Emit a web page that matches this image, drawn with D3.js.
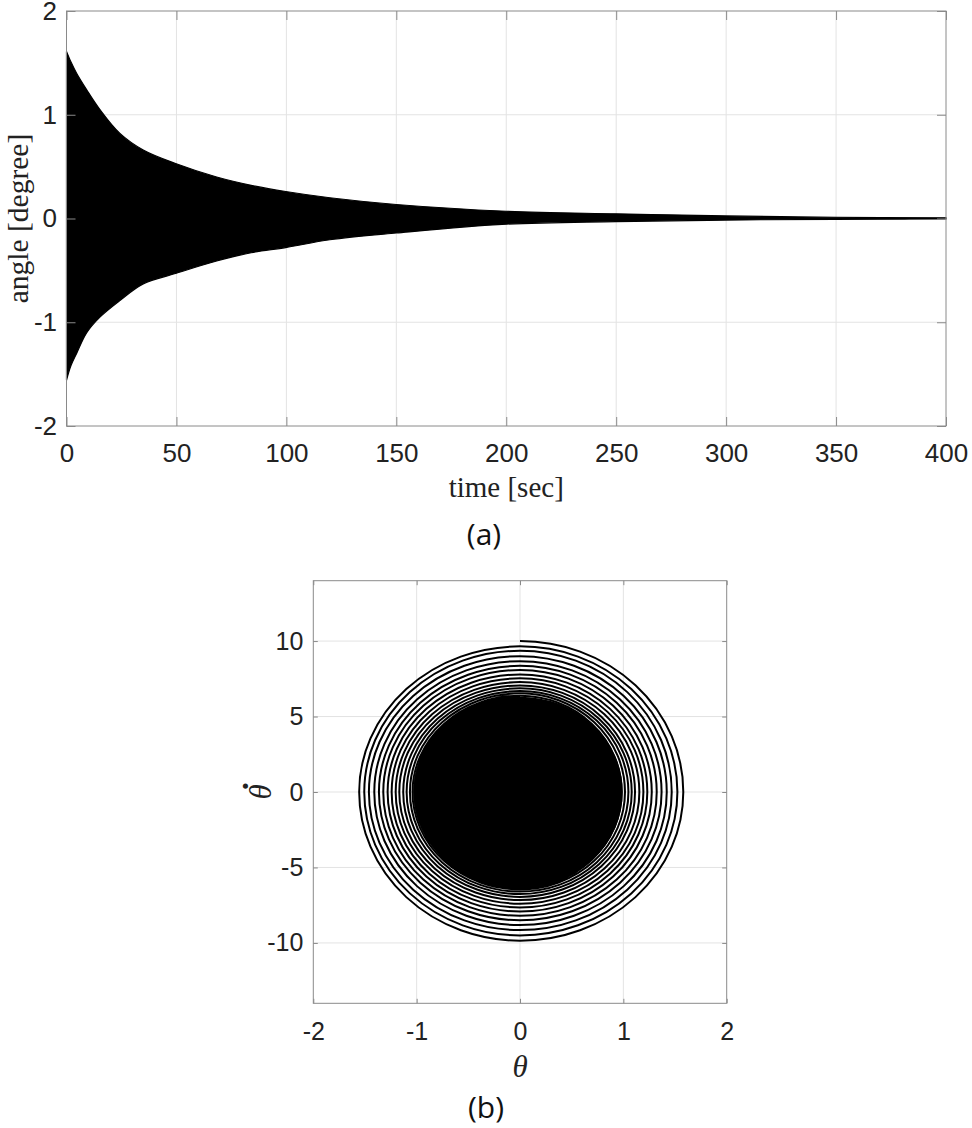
<!DOCTYPE html>
<html><head><meta charset="utf-8">
<script src="https://cdn.jsdelivr.net/npm/d3@7"></script>
<style>body{margin:0;background:#fff} svg{display:block}</style>
</head><body>
<svg id="c" width="972" height="1128"></svg>
<script>
// ---- (a) angle vs time : envelope of the dense oscillation ----
const timeSamples = [0, 2, 4.6, 9.2, 15.2, 24.3, 34.9, 49.6, 68.3, 84, 99.7, 119.8, 150, 200, 250, 300, 350, 400];
const upperEnv    = [1.61, 1.51, 1.40, 1.24, 1.05, 0.82, 0.66, 0.53, 0.40, 0.32, 0.26, 0.20, 0.135, 0.07, 0.045, 0.025, 0.012, 0.006];
const lowerEnv    = [-1.56, -1.42, -1.30, -1.10, -0.95, -0.79, -0.63, -0.53, -0.41, -0.33, -0.28, -0.205, -0.14, -0.055, -0.03, -0.015, -0.008, -0.004];
const timeTicks  = [0, 50, 100, 150, 200, 250, 300, 350, 400];
const angleTicks = [-2, -1, 0, 1, 2];

// ---- (b) phase portrait : quarter-turn crossings of the spiral ----
const topCross    = [10.0, 9.65, 9.36, 9.0, 8.67, 8.36, 8.08, 7.79, 7.53, 7.28, 7.06, 6.87, 6.69, 6.54, 6.38, 6.25];
const rightCross  = [1.58, 1.523, 1.468, 1.42, 1.37, 1.323, 1.275, 1.232, 1.194, 1.155, 1.113, 1.081, 1.049, 1.016, 0.984];
const bottomCross = [-9.85, -9.5, -9.15, -8.82, -8.5, -8.2, -7.92, -7.65, -7.4, -7.16, -6.95, -6.76, -6.6, -6.45, -6.32];
const leftCross   = [-1.556, -1.507, -1.462, -1.41, -1.365, -1.323, -1.281, -1.242, -1.203, -1.168, -1.13, -1.097, -1.065, -1.04, -1.02];
const thetaTicks    = [-2, -1, 0, 1, 2];
const thetaDotTicks = [-10, -5, 0, 5, 10];

const svg = d3.select("#c");
const SANS = "'Liberation Sans', Arial, Helvetica, sans-serif";
const SERIF = "'Liberation Serif', 'Times New Roman', serif";
const GRID = "#e3e3e3", BOX = "#8a8a8a", TXT = "#222";
const fmt = d => String(d);

function styleAxis(g, fs) {
  g.select(".domain").remove();
  g.selectAll(".tick line").attr("stroke", BOX).attr("stroke-width", 1);
  g.selectAll(".tick text").attr("fill", TXT).style("font-family", SANS).style("font-size", fs + "px");
}

// ================= Chart (a) =================
const xA = d3.scaleLinear().domain([0, 400]).range([66.5, 946]);
const yA = d3.scaleLinear().domain([-2, 2]).range([426, 11]);
const gA = svg.append("g");

gA.append("g").selectAll("line").data(timeTicks.slice(1, -1)).join("line")
  .attr("x1", d => xA(d)).attr("x2", d => xA(d)).attr("y1", yA(-2)).attr("y2", yA(2))
  .attr("stroke", GRID).attr("stroke-width", 1);
gA.append("g").selectAll("line").data(angleTicks.slice(1, -1)).join("line")
  .attr("y1", d => yA(d)).attr("y2", d => yA(d)).attr("x1", xA(0)).attr("x2", xA(400))
  .attr("stroke", GRID).attr("stroke-width", 1);

const envData = timeSamples.map((t, i) => ({t, hi: upperEnv[i], lo: lowerEnv[i]}));
gA.append("path").datum(envData)
  .attr("d", d3.area().x(d => xA(d.t)).y0(d => yA(d.lo)).y1(d => yA(d.hi)).curve(d3.curveCatmullRom.alpha(0.5)))
  .attr("fill", "#000").attr("stroke", "#000").attr("stroke-width", 1.2);

const axA_b = gA.append("g").attr("transform", `translate(0,${yA(-2)})`)
  .call(d3.axisBottom(xA).tickValues(timeTicks).tickSize(-9).tickPadding(18).tickFormat(fmt));
styleAxis(axA_b, 26);
const axA_t = gA.append("g").attr("transform", `translate(0,${yA(2)})`)
  .call(d3.axisTop(xA).tickValues(timeTicks).tickSize(-9).tickFormat(""));
styleAxis(axA_t, 26);
const axA_l = gA.append("g").attr("transform", `translate(${xA(0)},0)`)
  .call(d3.axisLeft(yA).tickValues(angleTicks).tickSize(-9).tickPadding(9.5).tickFormat(fmt));
styleAxis(axA_l, 26);
const axA_r = gA.append("g").attr("transform", `translate(${xA(400)},0)`)
  .call(d3.axisRight(yA).tickValues(angleTicks).tickSize(-9).tickFormat(""));
styleAxis(axA_r, 26);
gA.append("rect").attr("x", xA(0)).attr("y", yA(2)).attr("width", xA(400) - xA(0)).attr("height", yA(-2) - yA(2))
  .attr("fill", "none").attr("stroke", BOX).attr("stroke-width", 1);

gA.append("text").attr("x", (xA(0) + xA(400)) / 2).attr("y", 497).attr("text-anchor", "middle")
  .style("font-family", SERIF).style("font-size", "29px").attr("fill", TXT).text("time [sec]");
gA.append("text").attr("transform", `translate(28,${yA(0)}) rotate(-90)`).attr("text-anchor", "middle")
  .style("font-family", SERIF).style("font-size", "29.5px").attr("fill", TXT).text("angle [degree]");
svg.append("text").attr("x", 484).attr("y", 545).attr("text-anchor", "middle")
  .style("font-family", "'Open Sans', 'Noto Sans', sans-serif").style("font-size", "30px").attr("fill", "#111").text("(a)");

// ================= Chart (b) =================
const xB = d3.scaleLinear().domain([-2, 2]).range([313.3, 726.7]);
const yB = d3.scaleLinear().domain([-14, 14]).range([1003.3, 580.7]);
const gB = svg.append("g");

gB.append("g").selectAll("line").data(thetaTicks.slice(1, -1)).join("line")
  .attr("x1", d => xB(d)).attr("x2", d => xB(d)).attr("y1", yB(-14)).attr("y2", yB(14))
  .attr("stroke", GRID).attr("stroke-width", 1);
gB.append("g").selectAll("line").data(thetaDotTicks).join("line")
  .attr("y1", d => yB(d)).attr("y2", d => yB(d)).attr("x1", xB(-2)).attr("x2", xB(2))
  .attr("stroke", GRID).attr("stroke-width", 1);

const cx0 = xB(0), cy0 = yB(0);
const n = rightCross.length;
let d = `M${cx0},${yB(topCross[0])}`;
for (let k = 0; k < n; k++) {
  const rxR = xB(rightCross[k]) - cx0, rxL = cx0 - xB(leftCross[k]);
  const ryT = cy0 - yB(topCross[k]), ryB = yB(bottomCross[k]) - cy0, ryT2 = cy0 - yB(topCross[k + 1]);
  d += `A${rxR},${ryT} 0 0 1 ${xB(rightCross[k])},${cy0}`;
  d += `A${rxR},${ryB} 0 0 1 ${cx0},${yB(bottomCross[k])}`;
  d += `A${rxL},${ryB} 0 0 1 ${xB(leftCross[k])},${cy0}`;
  d += `A${rxL},${ryT2} 0 0 1 ${cx0},${yB(topCross[k + 1])}`;
}
const kL = n - 1;
const cR = xB(rightCross[kL]) - cx0, cL = cx0 - xB(leftCross[kL]);
const cT = cy0 - yB(topCross[n]), cBt = yB(bottomCross[kL]) - cy0;
const core = `M${cx0},${cy0 - cT}A${cR},${cT} 0 0 1 ${cx0 + cR},${cy0}A${cR},${cBt} 0 0 1 ${cx0},${cy0 + cBt}` +
  `A${cL},${cBt} 0 0 1 ${cx0 - cL},${cy0}A${cL},${cT} 0 0 1 ${cx0},${cy0 - cT}Z`;
gB.append("path").attr("d", core).attr("fill", "#000").attr("stroke", "#000").attr("stroke-width", 2);
gB.append("path").attr("d", d).attr("fill", "none").attr("stroke", "#000").attr("stroke-width", 2);

const axB_b = gB.append("g").attr("transform", `translate(0,${yB(-14)})`)
  .call(d3.axisBottom(xB).tickValues(thetaTicks).tickSize(-4.5).tickPadding(19).tickFormat(fmt));
styleAxis(axB_b, 25);
const axB_t = gB.append("g").attr("transform", `translate(0,${yB(14)})`)
  .call(d3.axisTop(xB).tickValues(thetaTicks).tickSize(-4.5).tickFormat(""));
styleAxis(axB_t, 25);
const axB_l = gB.append("g").attr("transform", `translate(${xB(-2)},0)`)
  .call(d3.axisLeft(yB).tickValues(thetaDotTicks).tickSize(-4.5).tickPadding(10).tickFormat(fmt));
styleAxis(axB_l, 25);
const axB_r = gB.append("g").attr("transform", `translate(${xB(2)},0)`)
  .call(d3.axisRight(yB).tickValues(thetaDotTicks).tickSize(-4.5).tickFormat(""));
styleAxis(axB_r, 25);
gB.append("rect").attr("x", xB(-2)).attr("y", yB(14)).attr("width", xB(2) - xB(-2)).attr("height", yB(-14) - yB(14))
  .attr("fill", "none").attr("stroke", BOX).attr("stroke-width", 1);

gB.append("text").attr("x", xB(0)).attr("y", 1077).attr("text-anchor", "middle")
  .style("font-family", SERIF).style("font-style", "italic").style("font-size", "31px").attr("fill", TXT).text("θ");
// rotated θ with its dot above
const yl = gB.append("g").attr("transform", `translate(271,${yB(0)}) rotate(-90)`);
yl.append("text").attr("x", 0).attr("y", 0).attr("text-anchor", "middle")
  .style("font-family", SERIF).style("font-style", "italic").style("font-size", "31px").attr("fill", TXT).text("θ");
yl.append("text").attr("x", 6).attr("y", -23).attr("text-anchor", "middle")
  .style("font-family", SERIF).style("font-weight", "bold").style("font-size", "31px").attr("fill", TXT).text(".");
svg.append("text").attr("x", 486).attr("y", 1118).attr("text-anchor", "middle")
  .style("font-family", "'Open Sans', 'Noto Sans', sans-serif").style("font-size", "30px").attr("fill", "#111").text("(b)");
</script>
</body></html>
